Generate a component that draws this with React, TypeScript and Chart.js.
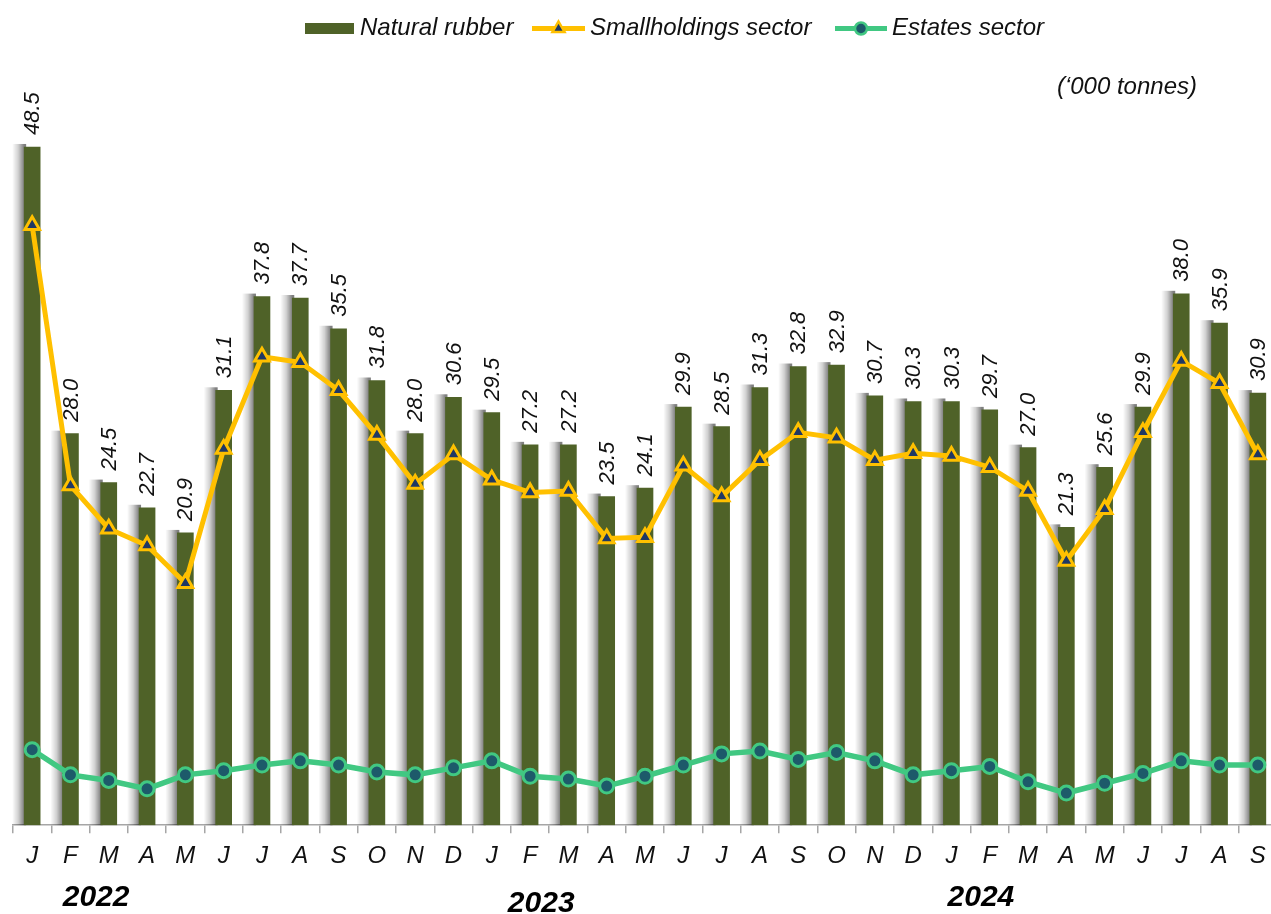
import React, { useEffect, useRef } from "react";
import { Chart, registerables } from "chart.js";

Chart.register(...registerables);

const MONTHS = [
  "J", "F", "M", "A", "M", "J", "J", "A", "S", "O", "N", "D",
  "J", "F", "M", "A", "M", "J", "J", "A", "S", "O", "N", "D",
  "J", "F", "M", "A", "M", "J", "J", "A", "S",
];

const NATURAL_RUBBER = [
  48.5, 28.0, 24.5, 22.7, 20.9, 31.1, 37.8, 37.7, 35.5, 31.8, 28.0, 30.6,
  29.5, 27.2, 27.2, 23.5, 24.1, 29.9, 28.5, 31.3, 32.8, 32.9, 30.7, 30.3,
  30.3, 29.7, 27.0, 21.3, 25.6, 29.9, 38.0, 35.9, 30.9,
];

const SMALLHOLDINGS = [
  42.9, 24.3, 21.2, 20.0, 17.3, 26.9, 33.5, 33.1, 31.1, 27.9, 24.4, 26.5,
  24.7, 23.8, 23.9, 20.5, 20.6, 25.7, 23.5, 26.1, 28.1, 27.7, 26.1, 26.6,
  26.4, 25.6, 23.9, 18.9, 22.6, 28.1, 33.2, 31.6, 26.5,
];

const ESTATES = [
  5.4, 3.6, 3.2, 2.6, 3.6, 3.9, 4.3, 4.6, 4.3, 3.8, 3.6, 4.1,
  4.6, 3.5, 3.3, 2.8, 3.5, 4.3, 5.1, 5.3, 4.7, 5.2, 4.6, 3.6,
  3.9, 4.2, 3.1, 2.3, 3.0, 3.7, 4.6, 4.3, 4.3,
];

const YEARS = ["2022", "2023", "2024"];
const YEAR_START_INDEX = [0, 12, 24];

const SERIES_NAMES = ["Natural rubber", "Smallholdings sector", "Estates sector"];
const UNIT_LABEL = "(\u2018000 tonnes)";

const FONT = '"Liberation Sans", Arial, sans-serif';
const BAR_COLOR = "#4F6228";
const SH_COLOR = "#FFC000";
const SH_FILL = "#1F3864";
const ES_COLOR = "#41C882";
const ES_FILL = "#1D5A6A";

// soft grey shadow to the left of every bar
const barShadowPlugin = {
  id: "barShadow",
  beforeDatasetDraw(chart: any, args: any) {
    if (args.index !== 0) return;
    const ctx = chart.ctx;
    const meta = chart.getDatasetMeta(0);
    ctx.save();
    meta.data.forEach((bar: any) => {
      const left = bar.x - bar.width / 2;
      const w = 12;
      const top = bar.y - 3;
      const grad = ctx.createLinearGradient(left - w, 0, left, 0);
      grad.addColorStop(0, "rgba(0,0,0,0)");
      grad.addColorStop(0.5, "rgba(0,0,0,0.18)");
      grad.addColorStop(1, "rgba(0,0,0,0.5)");
      ctx.fillStyle = grad;
      ctx.fillRect(left - w, top, w + 2, bar.base - top);
    });
    ctx.restore();
  },
};

const decorPlugin = {
  id: "decor",
  afterDatasetsDraw(chart: any) {
    const ctx = chart.ctx;
    const meta = chart.getDatasetMeta(0);
    ctx.save();
    ctx.fillStyle = "#111";
    ctx.font = `italic 22px ${FONT}`;
    ctx.textAlign = "left";
    ctx.textBaseline = "middle";
    meta.data.forEach((bar: any, i: number) => {
      ctx.save();
      ctx.translate(bar.x + 1, bar.y - 12);
      ctx.rotate(-Math.PI / 2);
      ctx.fillText(NATURAL_RUBBER[i].toFixed(1), 0, 0);
      ctx.restore();
    });
    ctx.restore();
  },
  afterDraw(chart: any) {
    const ctx = chart.ctx;
    const xs = chart.scales.x;
    ctx.save();
    // legend
    const ly = 28.5;
    ctx.font = `italic 24px ${FONT}`;
    ctx.textBaseline = "middle";
    ctx.textAlign = "left";
    ctx.fillStyle = BAR_COLOR;
    ctx.fillRect(305, 23, 49, 11);
    ctx.fillStyle = "#111";
    ctx.fillText(SERIES_NAMES[0], 360, ly);

    ctx.strokeStyle = SH_COLOR;
    ctx.lineWidth = 5;
    ctx.beginPath();
    ctx.moveTo(532, ly);
    ctx.lineTo(585, ly);
    ctx.stroke();
    const tx = 558.5;
    const r = 7;
    ctx.beginPath();
    ctx.moveTo(tx, ly - r);
    ctx.lineTo(tx + r * 0.866, ly + r * 0.5);
    ctx.lineTo(tx - r * 0.866, ly + r * 0.5);
    ctx.closePath();
    ctx.fillStyle = SH_FILL;
    ctx.fill();
    ctx.lineWidth = 2.5;
    ctx.stroke();
    ctx.fillStyle = "#111";
    ctx.fillText(SERIES_NAMES[1], 590, ly);

    ctx.strokeStyle = ES_COLOR;
    ctx.lineWidth = 5;
    ctx.beginPath();
    ctx.moveTo(835, ly);
    ctx.lineTo(887, ly);
    ctx.stroke();
    ctx.beginPath();
    ctx.arc(861, ly, 6, 0, Math.PI * 2);
    ctx.fillStyle = ES_FILL;
    ctx.fill();
    ctx.lineWidth = 2.5;
    ctx.stroke();
    ctx.fillStyle = "#111";
    ctx.fillText(SERIES_NAMES[2], 892, ly);

    // unit
    ctx.textAlign = "right";
    ctx.fillText(UNIT_LABEL, 1197, 87);

    // years
    const yearOffsets = [1.67, 1.29, 0.77];
    const yearY = [898, 904, 898];
    ctx.font = `italic bold 30px ${FONT}`;
    ctx.textAlign = "center";
    ctx.fillStyle = "#000";
    YEARS.forEach((yr, k) => {
      const x = xs.getPixelForValue(YEAR_START_INDEX[k] + yearOffsets[k]);
      ctx.fillText(yr, x, yearY[k]);
    });
    ctx.restore();
  },
};

export default function App() {
  const canvasRef = useRef<HTMLCanvasElement | null>(null);

  useEffect(() => {
    if (!canvasRef.current) return;
    const chart = new Chart(canvasRef.current, {
      type: "bar",
      data: {
        labels: MONTHS,
        datasets: [
          {
            type: "bar",
            label: SERIES_NAMES[0],
            data: NATURAL_RUBBER,
            backgroundColor: BAR_COLOR,
            barThickness: 16,
            order: 3,
          },
          {
            type: "line",
            label: SERIES_NAMES[1],
            data: SMALLHOLDINGS,
            borderColor: SH_COLOR,
            borderWidth: 5,
            pointStyle: "triangle",
            pointRadius: 8.5,
            pointBackgroundColor: SH_FILL,
            pointBorderColor: SH_COLOR,
            pointBorderWidth: 3,
            tension: 0,
            order: 1,
          },
          {
            type: "line",
            label: SERIES_NAMES[2],
            data: ESTATES,
            borderColor: ES_COLOR,
            borderWidth: 5.5,
            pointStyle: "circle",
            pointRadius: 7,
            pointBackgroundColor: ES_FILL,
            pointBorderColor: ES_COLOR,
            pointBorderWidth: 3,
            tension: 0,
            order: 2,
          },
        ] as any,
      },
      options: {
        animation: false,
        responsive: true,
        maintainAspectRatio: false,
        layout: { padding: { top: 126, left: 13, right: 13, bottom: 34 } },
        plugins: {
          legend: { display: false },
          tooltip: { enabled: false },
        },
        scales: {
          x: {
            offset: true,
            grid: {
              display: true,
              drawOnChartArea: false,
              drawTicks: true,
              tickLength: 8,
              color: "#A6A6A6",
              lineWidth: 1.5,
              offset: true,
            },
            border: { display: true, color: "#A6A6A6", width: 1.5 },
            ticks: {
              font: { family: FONT, size: 24, style: "italic" },
              color: "#111",
              padding: 9,
              maxRotation: 0,
              autoSkip: false,
            },
          },
          y: { display: false, min: 0, max: 50 },
        },
      },
      plugins: [barShadowPlugin, decorPlugin],
    } as any);
    return () => chart.destroy();
  }, []);

  return (
    <div
      style={{
        position: "fixed",
        left: 0,
        top: 0,
        width: 1271,
        height: 914,
        overflow: "hidden",
        background: "#fff",
      }}
    >
      <div style={{ position: "relative", width: 1290, height: 914 }}>
        <canvas ref={canvasRef} />
      </div>
    </div>
  );
}
